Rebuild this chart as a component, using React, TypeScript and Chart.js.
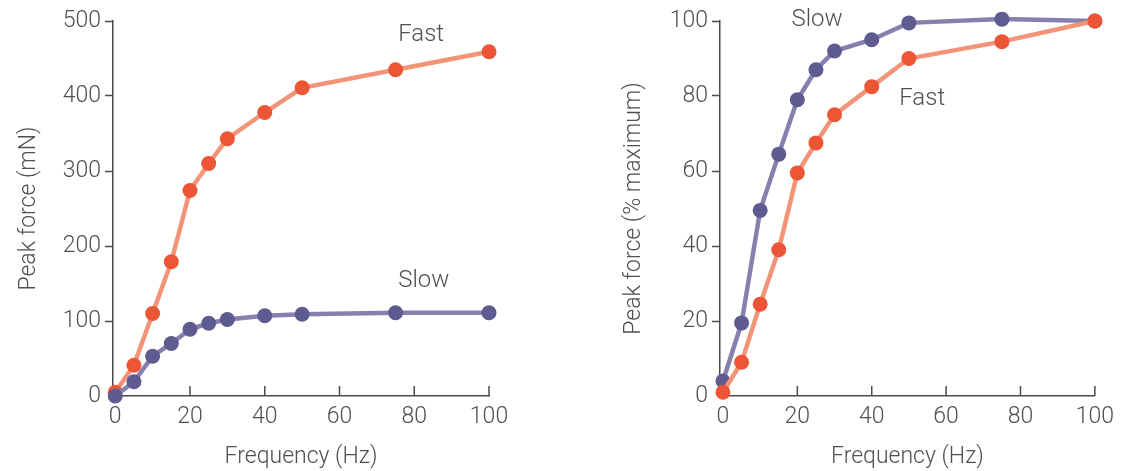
import React, { useEffect, useRef } from "react";
import { Chart, registerables } from "chart.js";

Chart.register(...registerables);

// ---- Data ----
const frequencies = [0, 5, 10, 15, 20, 25, 30, 40, 50, 75, 100];
const fastForceMN = [5, 41, 110, 179, 274, 310, 343, 378, 411, 435, 459];
const slowForceMN = [0, 19, 53, 70, 89, 97, 102, 107, 109, 111, 111];
const fastPercent = [1, 9, 24.5, 39, 59.5, 67.5, 75, 82.5, 90, 94.5, 100];
const slowPercent = [4, 19.5, 49.5, 64.5, 79, 87, 92, 95, 99.5, 100.5, 100];

const xTicks = [0, 20, 40, 60, 80, 100];
const yTicksMN = [0, 100, 200, 300, 400, 500];
const yTicksPct = [0, 20, 40, 60, 80, 100];

const FAST_POINT = "#EC5636";
const FAST_LINE = "#F39479";
const SLOW_POINT = "#5F5A8F";
const SLOW_LINE = "#8581AE";
const AXIS = "#4a4a4a";
const TEXT = "#505050";
const FONT = "Roboto";

type Lbl = { text: string; x: number; y: number };

const decorPlugin = {
  id: "decor",
  afterDraw(chart: any, _args: any, opts: any) {
    const ctx = chart.ctx;
    const xs = chart.scales.x;
    const ys = chart.scales.y;
    ctx.save();
    // inside ticks on x axis
    ctx.strokeStyle = AXIS;
    ctx.lineWidth = 1.5;
    const yb = chart.chartArea.bottom;
    xTicks.forEach((v) => {
      if (v === 0) return;
      const px = xs.getPixelForValue(v);
      ctx.beginPath();
      ctx.moveTo(px, yb);
      ctx.lineTo(px, yb - 10);
      ctx.stroke();
    });
    // series labels
    ctx.fillStyle = TEXT;
    ctx.font = `300 24px ${FONT}`;
    ctx.textAlign = "left";
    ctx.textBaseline = "middle";
    (opts.labels || []).forEach((l: Lbl) => {
      ctx.fillText(l.text, xs.getPixelForValue(l.x), ys.getPixelForValue(l.y));
    });
    ctx.restore();
  },
};

function makeConfig(
  datasets: any[],
  yTicks: number[],
  yMax: number,
  yTitle: string,
  yWidth: number,
  yTitlePad: number,
  xMin: number,
  padRight: number,
  labels: Lbl[]
): any {
  const tickFont = { family: FONT, size: 23, weight: 300 as any };
  const titleFont = { family: FONT, size: 23, weight: 300 as any };
  return {
    type: "line",
    data: { datasets },
    plugins: [decorPlugin],
    options: {
      animation: false,
      responsive: false,
      layout: { padding: { left: 0, right: padRight, top: 21, bottom: 0 } },
      plugins: {
        legend: { display: false },
        tooltip: { enabled: false },
        decor: { labels },
      },
      scales: {
        x: {
          type: "linear",
          min: xMin,
          max: 100,
          afterBuildTicks: (s: any) => {
            s.ticks = xTicks.map((v) => ({ value: v }));
          },
          afterFit: (s: any) => {
            s.height = 75;
          },
          grid: { display: false, drawTicks: false },
          border: { display: true, color: AXIS, width: 1.5 },
          ticks: { color: TEXT, font: tickFont, padding: 7, maxRotation: 0 },
          title: {
            display: true,
            text: "Frequency (Hz)",
            color: TEXT,
            font: titleFont,
            padding: { top: 0, bottom: 0 },
          },
        },
        y: {
          type: "linear",
          min: 0,
          max: yMax,
          afterBuildTicks: (s: any) => {
            s.ticks = yTicks.map((v) => ({ value: v }));
          },
          afterFit: (s: any) => {
            s.width = yWidth;
          },
          grid: {
            drawOnChartArea: false,
            drawTicks: true,
            tickLength: 8,
            tickWidth: 1.5,
            tickColor: (c: any) => (c.tick && c.tick.value === 0 ? "rgba(0,0,0,0)" : AXIS),
            color: AXIS,
          },
          border: { display: true, color: AXIS, width: 1.5 },
          ticks: { color: TEXT, font: tickFont, padding: 4 },
          title: {
            display: true,
            text: yTitle,
            color: TEXT,
            font: titleFont,
            padding: { top: yTitlePad, bottom: 0 },
          },
        },
      },
    },
  };
}

function ds(label: string, ys: number[], lineColor: string, pointColor: string) {
  return {
    label,
    data: frequencies.map((f, i) => ({ x: f, y: ys[i] })),
    borderColor: lineColor,
    borderWidth: 4.5,
    backgroundColor: pointColor,
    pointBackgroundColor: pointColor,
    pointBorderColor: pointColor,
    pointBorderWidth: 0,
    pointRadius: 7.5,
    tension: 0,
    clip: false,
  };
}

function ChartCanvas({ config, width, height, left }: any) {
  const ref = useRef<HTMLCanvasElement | null>(null);
  useEffect(() => {
    if (!ref.current) return;
    const c = new Chart(ref.current, config);
    return () => c.destroy();
  }, []);
  return (
    <canvas
      ref={ref}
      width={width}
      height={height}
      style={{ position: "absolute", left, top: 0, width, height }}
    />
  );
}

export default function App() {
  const leftCfg = makeConfig(
    [
      ds("Slow", slowForceMN, SLOW_LINE, SLOW_POINT),
      ds("Fast", fastForceMN, FAST_LINE, FAST_POINT),
    ],
    yTicksMN,
    500,
    "Peak force (mN)",
    113,
    15,
    -0.6,
    71,
    [
      { text: "Fast", x: 75.7, y: 482 },
      { text: "Slow", x: 75.7, y: 153 },
    ]
  );
  const rightCfg = makeConfig(
    [
      ds("Fast", fastPercent, FAST_LINE, FAST_POINT),
      ds("Slow", slowPercent, SLOW_LINE, SLOW_POINT),
    ],
    yTicksPct,
    100,
    "Peak force (% maximum)",
    160,
    60,
    -0.8,
    24,
    [
      { text: "Slow", x: 18.4, y: 100.2 },
      { text: "Fast", x: 47.4, y: 79.3 },
    ]
  );
  return (
    <div
      style={{
        position: "fixed",
        left: 0,
        top: 0,
        width: 1121,
        height: 471,
        background: "#ffffff",
      }}
    >
      <ChartCanvas config={leftCfg} width={560} height={471} left={0} />
      <ChartCanvas config={rightCfg} width={561} height={471} left={560} />
    </div>
  );
}
